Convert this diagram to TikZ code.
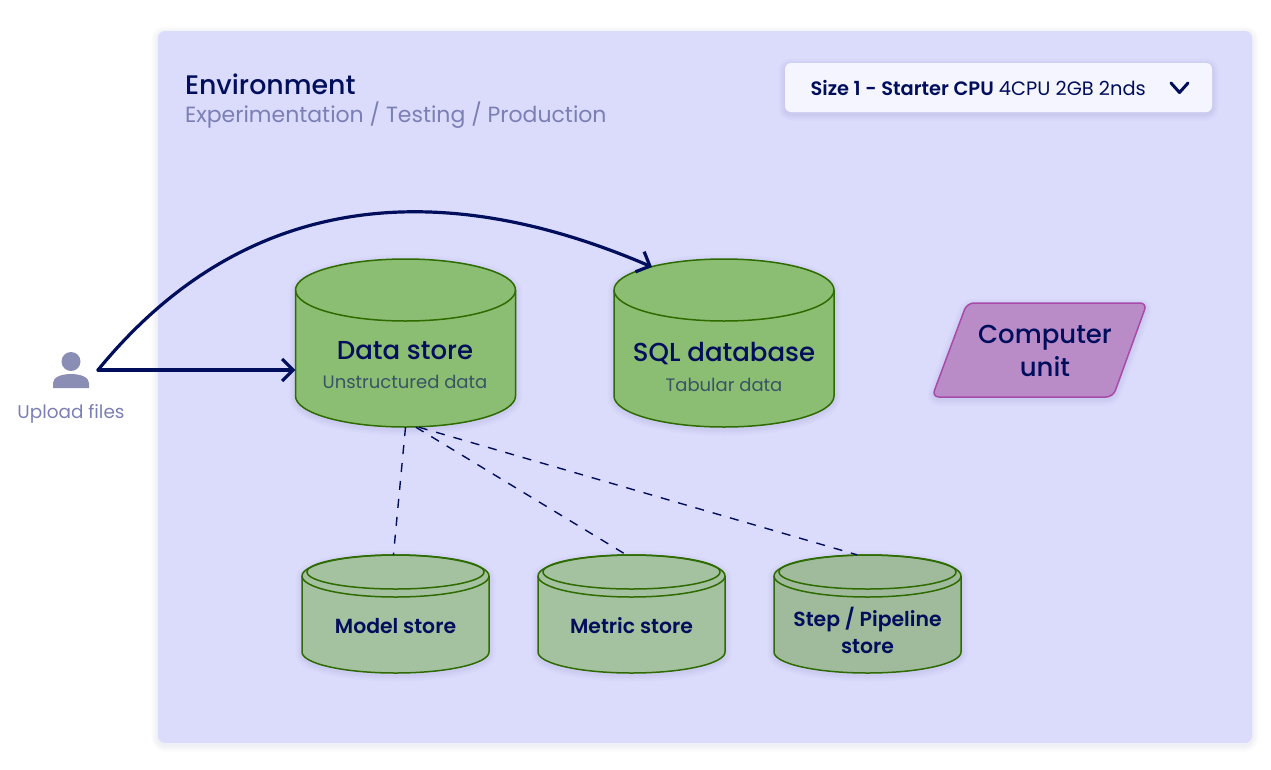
\documentclass[tikz,border=0pt]{standalone}
\usepackage{fontspec}
\setmainfont{Poppins}
\newfontfamily\medfont{Poppins Medium}
\newfontfamily\semifont{Poppins SemiBold}
\usetikzlibrary{arrows.meta}
\definecolor{navy}{HTML}{000E5C}
\definecolor{paleink}{HTML}{7B7FB4}
\definecolor{panelblue}{HTML}{DBDBFC}
\definecolor{menuwhite}{HTML}{F5F5FF}
\definecolor{storegreen}{HTML}{8BBD72}
\definecolor{subgreen}{HTML}{A4C1A0}
\definecolor{edgegreen}{HTML}{2E6B00}
\definecolor{unitpurple}{HTML}{B98CC8}
\definecolor{edgepurple}{HTML}{A84AAA}
\definecolor{iconblue}{HTML}{8A8DB4}
\tikzset{
softlayer/.style={preaction={draw=navy,draw opacity=.014,line width=#1,line join=round,transform canvas={yshift=-2pt}}},
softshadow/.style={softlayer=13pt,softlayer=9pt,softlayer=6pt,softlayer=3pt},
bigdrum/.style={draw=edgegreen,fill=storegreen,line width=1.5pt,softshadow},
subdrum/.style={draw=edgegreen,fill=#1,line width=1.5pt,softshadow},
drumbox/.style={inner sep=0pt,minimum width=#1},
maintitle/.style={text=navy,font=\fontsize{26.8}{32}\medfont},
subtitle/.style={text=paleink,font=\fontsize{22}{28}\selectfont},
storetitle/.style={text=navy,font=\fontsize{26}{32}\medfont},
storenote/.style={text=navy!60!storegreen,font=\fontsize{18}{22}\selectfont},
subtext/.style={text=navy,align=center,font=\fontsize{20.4}{27}\semifont},
solidlink/.style={draw=navy,line width=3.2pt,line cap=round,-{Straight Barb[length=11pt,width=22pt,line width=3.2pt]}},
dashlink/.style={draw=navy,line width=1.4pt,dash pattern=on 9pt off 9pt},
}
% style, centre x, top, bottom, radius x, radius y
\newcommand{\drum}[6]{
\draw[#1] (#2-#5,#3+#6) -- (#2-#5,#4-#6) arc (180:0:#5 and #6) -- (#2+#5,#3+#6) arc (0:-180:#5 and #6) -- cycle;
\draw[draw=edgegreen,line width=1.5pt] (#2-#5,#3+#6) arc (180:0:#5 and #6);
}
\begin{document}
\begin{tikzpicture}[x=1pt,y=-1pt]
\useasboundingbox (0,0) rectangle (1271,769);
% panel
\draw[fill=panelblue,draw=none,rounded corners=7pt,softshadow] (158,31) rectangle (1252,743);
\node[maintitle,anchor=west] (envtitle) at (181.5,84) {Environment};
\node[subtitle,anchor=west] (envnote) at (181.5,114.7) {Experimentation / Testing / Production};

% size menu
\draw[fill=menuwhite,draw=none,rounded corners=6pt,softshadow] (785,63) rectangle (1212,112);
\node[anchor=west,text=navy,font=\fontsize{19.4}{22}\selectfont] (sizetext) at (807,87.5) {{\semifont Size 1 - Starter CPU} 4CPU 2GB 2nds};
\draw[navy,line width=3pt,line cap=round,line join=round] (1171,83) -- (1179.5,92.5) -- (1188,83);

% user
\fill[iconblue] (71,361.5) circle (9.5);
\fill[iconblue] (53,388) -- (53,383) .. controls (53,377) and (62,374) .. (71,374) .. controls (80,374) and (89,377) .. (89,383) -- (89,388) -- cycle;
\node[text=paleink,font=\fontsize{18.4}{22}\selectfont] (upload) at (71,414) {Upload files};
\coordinate (uploadtip) at (98,370);

% stores
\drum{bigdrum}{405.5}{259}{427}{110}{31}
\node[drumbox=220pt,minimum height=168pt] (datastore) at (405.5,343) {};
\node[storetitle] (datatitle) at (405,351) {Data store};
\node[storenote] (datanote) at (405,381.5) {Unstructured data};
\drum{bigdrum}{724}{259}{427}{110}{31}
\node[drumbox=220pt,minimum height=168pt] (sqldb) at (724,343) {};
\node[storetitle] (sqltitle) at (724,353.5) {SQL database};
\node[storenote] (sqlnote) at (724,385) {Tabular data};
\coordinate (sqlhit) at (652,267);

% computer unit
\draw[fill=unitpurple,draw=edgepurple,line width=1.5pt,rounded corners=7pt,softshadow] (967,303) -- (1147,303) -- (1113,397) -- (932,397) -- cycle;
\node[storetitle,align=center,font=\fontsize{26}{33}\medfont] (computer) at (1045,351) {Computer\\unit};

% small stores
\foreach \x/\y/\c/\n/\t in {395.5/626/subgreen/modelstore/Model store,631.5/626/subgreen/metricstore/Metric store,867.5/630.5/subgreen!97!black/pipelinestore/{Step / Pipeline\\store}} {
\drum{subdrum=\c}{\x}{555}{673}{93.5}{21}
\draw[edgegreen,line width=1.5pt] (\x,572) ellipse (88.5 and 17);
\node[drumbox=187pt,minimum height=118pt] (\n) at (\x,614) {};
\node[subtext] (\n text) at (\x,\y) {\t};
};
\draw[dashlink] (datastore.south) -- (modelstore.92.4);
\draw[dashlink] (datastore.-83) -- (metricstore.95.3);
\draw[dashlink] (datastore.-81.5) -- (pipelinestore.100);

% uploads
\draw[solidlink] (uploadtip) -- (datastore.west |- uploadtip);
\draw[solidlink] (uploadtip) .. controls (250,184) and (450,180) .. (sqlhit);
\end{tikzpicture}
\end{document}
